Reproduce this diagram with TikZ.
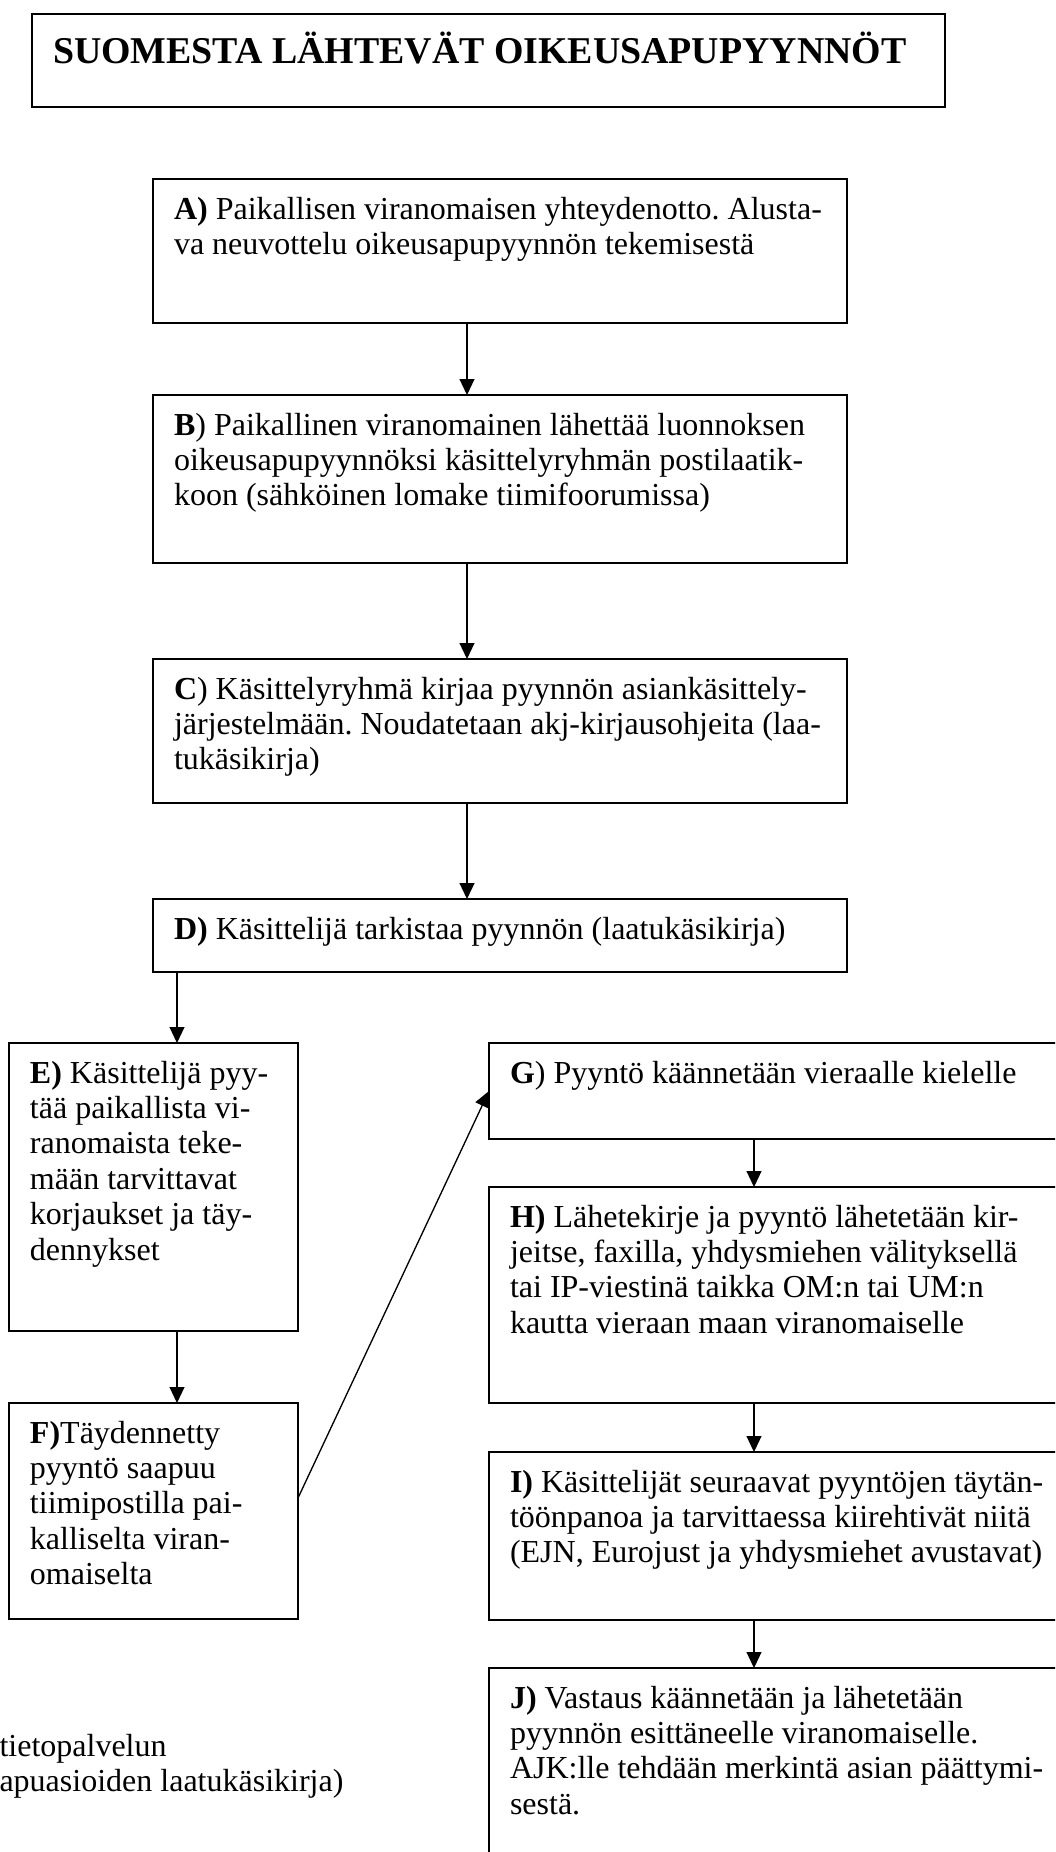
\documentclass[tikz,border=0pt]{standalone}
\usepackage{fontspec}
\setmainfont{Liberation Serif}
\usetikzlibrary{arrows.meta,calc}
\frenchspacing
\newlength{\px}
\setlength{\px}{0.375pt}
\newcommand{\steptext}[4][15pt]{\parbox[t][#3\px][t]{\dimexpr#2\px-42\px\relax}{\raggedright\frenchspacing\rule{0pt}{#1}#4}}
\begin{document}
\begin{tikzpicture}[x=0.375pt,y=-0.375pt,
    stepbox/.style={draw, line width=0.7pt, anchor=north west, inner xsep=7.875pt, inner ysep=0pt, outer sep=0pt, font=\fontsize{12pt}{13.3pt}\selectfont},
    notetext/.style={anchor=north west, inner sep=0pt, font=\fontsize{12pt}{13.1pt}\selectfont},
    flow/.style={line width=0.5pt, -{Triangle[length=6pt,width=5.6pt]}}]
  \useasboundingbox (0,0) rectangle (1055,1852);
  \clip (0,0) rectangle (1055,1852);

  \node[stepbox, line width=0.8pt, font=\fontsize{14.2pt}{16pt}\selectfont\bfseries] (title) at (32,14) {\steptext[18.4pt]{913}{93}{SUOMESTA LÄHTEVÄT OIKEUSAPUPYYNNÖT}};

  \node[stepbox] (a) at (153,179) {\steptext{694}{144}{\textbf{A)} Paikallisen viranomaisen yhteydenotto. Alusta-\\va neuvottelu oikeusapupyynnön tekemisestä}};
  \node[stepbox] (b) at (153,395) {\steptext{694}{168}{\textbf{B}) Paikallinen viranomainen lähettää luonnoksen\\oikeusapupyynnöksi käsittelyryhmän postilaatik-\\koon (sähköinen lomake tiimifoorumissa)}};
  \node[stepbox] (c) at (153,659) {\steptext{694}{144}{\textbf{C}) Käsittelyryhmä kirjaa pyynnön asiankäsittely-\\järjestelmään. Noudatetaan akj-kirjausohjeita (laa-\\tukäsikirja)}};
  \node[stepbox] (d) at (153,899) {\steptext{694}{73}{\textbf{D)} Käsittelijä tarkistaa pyynnön (laatukäsikirja)}};

  \node[stepbox] (e) at (9,1043) {\steptext{289}{288}{\textbf{E)} Käsittelijä pyy-\\tää paikallista vi-\\ranomaista teke-\\mään tarvittavat\\korjaukset ja täy-\\dennykset}};
  \node[stepbox] (f) at (9,1403) {\steptext{289}{216}{\textbf{F)}Täydennetty\\pyyntö saapuu\\tiimipostilla pai-\\kalliselta viran-\\omaiselta}};

  \node[stepbox] (g) at (489,1043) {\steptext{660}{96}{\textbf{G}) Pyyntö käännetään vieraalle kielelle}};
  \node[stepbox] (h) at (489,1187) {\steptext{660}{216}{\textbf{H)} Lähetekirje ja pyyntö lähetetään kir-\\jeitse, faxilla, yhdysmiehen välityksellä\\tai IP-viestinä taikka OM:n tai UM:n\\kautta vieraan maan viranomaiselle}};
  \node[stepbox] (i) at (489,1452) {\steptext{660}{168}{\textbf{I)} Käsittelijät seuraavat pyyntöjen täytän-\\töönpanoa ja tarvittaessa kiirehtivät niitä\\(EJN, Eurojust ja yhdysmiehet avustavat)}};
  \node[stepbox] (j) at (489,1668) {\steptext{660}{260}{\textbf{J)} Vastaus käännetään ja lähetetään\\pyynnön esittäneelle viranomaiselle.\\AJK:lle tehdään merkintä asian päättymi-\\sestä.}};

  \node[notetext] (note) at (-1,1727) {\steptext[11pt]{600}{80}{tietopalvelun\\apuasioiden laatukäsikirja)}};

  \draw[flow] ($(a.south west)+(314,0)$) coordinate (ab) -- (ab |- b.north);
  \draw[flow] ($(b.south west)+(314,0)$) coordinate (bc) -- (bc |- c.north);
  \draw[flow] ($(c.south west)+(314,0)$) coordinate (cd) -- (cd |- d.north);
  \draw[flow] ($(d.south west)+(24,0)$) coordinate (de) -- (de |- e.north);
  \draw[flow] (de |- e.south) coordinate (ef) -- (ef |- f.north);
  \draw[flow] ($(f.east)+(0,-13)$) -- (g.west);
  \draw[flow] ($(g.south west)+(265,0)$) coordinate (gh) -- (gh |- h.north);
  \draw[flow] (gh |- h.south) coordinate (hi) -- (hi |- i.north);
  \draw[flow] (gh |- i.south) coordinate (ij) -- (ij |- j.north);
\end{tikzpicture}
\end{document}
